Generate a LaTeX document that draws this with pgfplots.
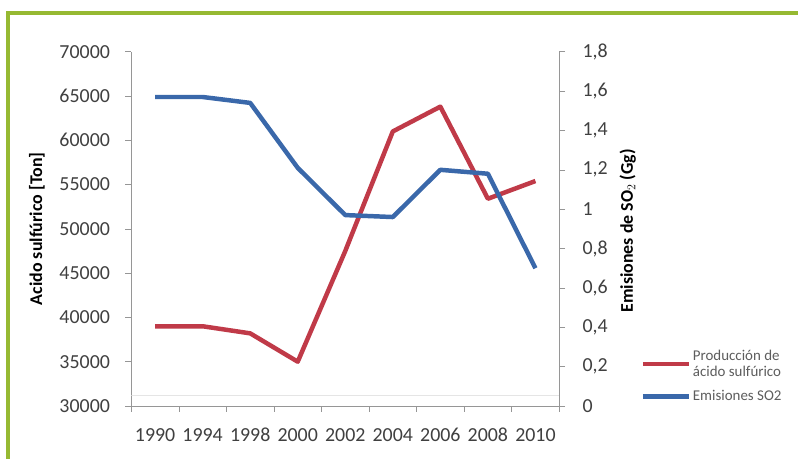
\documentclass[border=0pt]{standalone}
\usepackage{pgfplots}
\pgfplotsset{compat=1.18}
\usepackage{fontspec}
\setmainfont{Carlito}
\definecolor{redl}{RGB}{192,58,72}
\definecolor{bluel}{RGB}{58,104,170}
\definecolor{framegreen}{RGB}{150,185,50}
\definecolor{axgray}{RGB}{150,150,150}
\definecolor{txt}{RGB}{64,64,64}
\pgfplotstableread{
x acid
0 39000
1 39000
2 38200
3 35000
4 47500
5 61000
6 63800
7 53400
8 55400
}\acidtable
\pgfplotstableread{
x so2
0 1.57
1 1.57
2 1.54
3 1.21
4 0.97
5 0.96
6 1.20
7 1.18
8 0.70
}\sotable
\begin{document}
\begin{tikzpicture}[x=1pt,y=1pt]
\fill[white] (0,0) rectangle (800,459);
\draw[framegreen, line width=4pt] (8,-2) -- (8,446) -- (802,446);
\pgfplotsset{
  common/.style={
    at={(132pt,51pt)}, anchor=south west, scale only axis,
    width=430pt, height=356pt,
    xmin=-0.5, xmax=8.5,
    tick align=outside, major tick length=6pt, minor tick length=6pt,
    tick style={axgray, line width=0.6pt},
    axis line style={axgray, line width=0.8pt},
    /pgf/number format/assume math mode=true,
    ticklabel style={font=\fontsize{20}{22}\selectfont, text=txt},
    label style={font=\bfseries\fontsize{18}{20}\selectfont, text=black},
    scaled y ticks=false,
  }
}
\begin{axis}[common,
  ymin=30000, ymax=70000,
  axis y line*=left, axis x line*=bottom,
  xtick={0,...,8},
  xticklabels={1990,1994,1998,2000,2002,2004,2006,2008,2010},
  major x tick style={draw=none},
  minor xtick={-0.5,0.5,...,8.5},
  ytick={30000,35000,40000,45000,50000,55000,60000,65000,70000},
  /pgf/number format/fixed, /pgf/number format/1000 sep={},
  xticklabel style={anchor=north, yshift=-13pt, text height=13pt, text depth=0pt},
  yticklabel style={xshift=-12pt},
  ylabel={Acido sulfúrico [Ton]},
  ylabel style={at={(axis description cs:-0.221,0.5)}, anchor=center, rotate=0},
]
\draw[gray!20, line width=0.6pt] (axis cs:-0.5,31250) -- (axis cs:8.5,31250);
\addplot[redl, line width=4.5pt, line join=round] table[x=x,y=acid] {\acidtable};
\end{axis}
\begin{axis}[common,
  ymin=0, ymax=1.8,
  axis y line*=right, axis x line=none,
  ytick={0,0.2,0.4,0.6,0.8,1,1.2,1.4,1.6,1.8},
  /pgf/number format/fixed, /pgf/number format/precision=1, /pgf/number format/use comma,
  yticklabel style={xshift=14pt},
  ylabel={Emisiones de SO$_2$ (Gg)},
  ylabel style={at={(axis description cs:1.16,0.494)}, anchor=center, rotate=0},
  legend style={at={(axis description cs:1.19,0.165)}, anchor=north west, draw=none, fill=none,
    font=\fontsize{15}{17}\selectfont, text=txt!85, cells={align=left, anchor=west},
    row sep=8pt, inner sep=0pt},
  legend image code/.code={\draw[#1] (0pt,0pt) -- (46pt,0pt);},
]
\addlegendimage{redl, line width=4.5pt}
\addlegendentry{Producción de\\ácido sulfúrico}
\addplot[bluel, line width=4.5pt, line join=round] table[x=x,y=so2] {\sotable};
\addlegendentry{Emisiones SO2}
\end{axis}
\end{tikzpicture}
\end{document}
